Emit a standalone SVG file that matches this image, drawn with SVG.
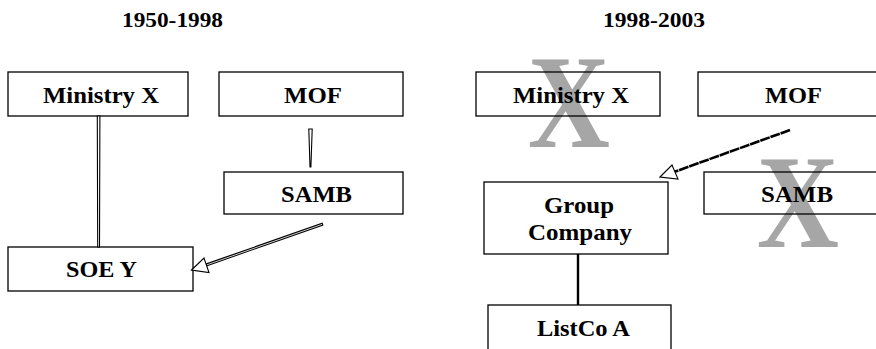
<svg xmlns="http://www.w3.org/2000/svg" width="876" height="349" viewBox="0 0 876 349">
  <style>
    .box { fill: none; stroke: #000; stroke-width: 1.3; }
    .lbl { font-family: "Liberation Serif", "DejaVu Serif", serif; font-weight: bold; font-size: 23px; fill: #000; }
    .head { font-family: "Liberation Serif", "DejaVu Serif", serif; font-weight: bold; font-size: 22px; fill: #000; }
    .cross { font-family: "Liberation Serif", "DejaVu Serif", serif; font-weight: bold; font-size: 134px; fill: #a6a6a6; }
    .hollow { fill: #fff; stroke: #000; stroke-width: 1.1; stroke-linejoin: miter; }
  </style>
  <rect width="876" height="349" fill="#fff"/>

  <!-- period headings -->
  <text class="head" x="122" y="27" textLength="101" lengthAdjust="spacingAndGlyphs">1950-1998</text>
  <text class="head" x="603" y="27" textLength="102" lengthAdjust="spacingAndGlyphs">1998-2003</text>

  <!-- grey crosses marking removed entities -->
  <text class="cross" transform="translate(569 147) scale(0.85 1)" text-anchor="middle">X</text>
  <text class="cross" transform="translate(798 247) scale(0.85 1)" text-anchor="middle">X</text>

  <!-- 1950-1998 nodes -->
  <g id="ministry-x-1">
    <rect class="box" x="8" y="72" width="180" height="44"/>
    <text class="lbl" x="43" y="103" textLength="116" lengthAdjust="spacingAndGlyphs">Ministry X</text>
  </g>
  <g id="mof-1">
    <rect class="box" x="219" y="72" width="184" height="44"/>
    <text class="lbl" x="284" y="103" textLength="58" lengthAdjust="spacingAndGlyphs">MOF</text>
  </g>
  <g id="samb-1">
    <rect class="box" x="224" y="172" width="179" height="42"/>
    <text class="lbl" x="281" y="202" textLength="71" lengthAdjust="spacingAndGlyphs">SAMB</text>
  </g>
  <g id="soe-y">
    <rect class="box" x="8" y="247" width="185" height="44"/>
    <text class="lbl" x="66" y="277" textLength="71" lengthAdjust="spacingAndGlyphs">SOE Y</text>
  </g>

  <!-- 1998-2003 nodes -->
  <g id="ministry-x-2">
    <rect class="box" x="476" y="72" width="184" height="44"/>
    <text class="lbl" x="513" y="103" textLength="116" lengthAdjust="spacingAndGlyphs">Ministry X</text>
  </g>
  <g id="mof-2">
    <rect class="box" x="698" y="72" width="190" height="44"/>
    <text class="lbl" x="765" y="103" textLength="57" lengthAdjust="spacingAndGlyphs">MOF</text>
  </g>
  <g id="samb-2">
    <rect class="box" x="704" y="172" width="190" height="42"/>
    <text class="lbl" x="761" y="202" textLength="72" lengthAdjust="spacingAndGlyphs">SAMB</text>
  </g>
  <g id="group-company">
    <rect class="box" x="484" y="182" width="184" height="72"/>
    <text class="lbl" x="544" y="213" textLength="70" lengthAdjust="spacingAndGlyphs">Group</text>
    <text class="lbl" x="528" y="240" textLength="104" lengthAdjust="spacingAndGlyphs">Company</text>
  </g>
  <g id="listco-a">
    <rect class="box" x="488" y="305" width="183" height="60"/>
    <text class="lbl" x="537" y="336" textLength="93" lengthAdjust="spacingAndGlyphs">ListCo A</text>
  </g>

  <!-- connectors -->
  <g id="connectors">
    <!-- Ministry X to SOE Y -->
    <polygon class="hollow" points="97.3,116 99.9,116 99.5,247 97.7,247"/>
    <!-- MOF to SAMB -->
    <polygon class="hollow" points="308.8,129 312.2,129 310.9,167 310,167"/>
    <!-- SAMB to SOE Y, hollow shaft and open head -->
    <line x1="323" y1="224" x2="206" y2="265" stroke="#000" stroke-width="3"/>
    <line x1="322" y1="224.4" x2="207" y2="264.8" stroke="#fff" stroke-width="0.8"/>
    <polygon class="hollow" points="191.5,270 204,258 209,272.5"/>
    <!-- MOF to Group Company, rough dashed stroke -->
    <line x1="790" y1="130" x2="674" y2="172" stroke="#000" stroke-width="2.6" stroke-dasharray="10 0.8"/>
    <polygon class="hollow" points="660,177 672,165 678,179"/>
    <!-- Group Company to ListCo A -->
    <line x1="578" y1="254" x2="578" y2="305" stroke="#000" stroke-width="2.4"/>
  </g>
</svg>
